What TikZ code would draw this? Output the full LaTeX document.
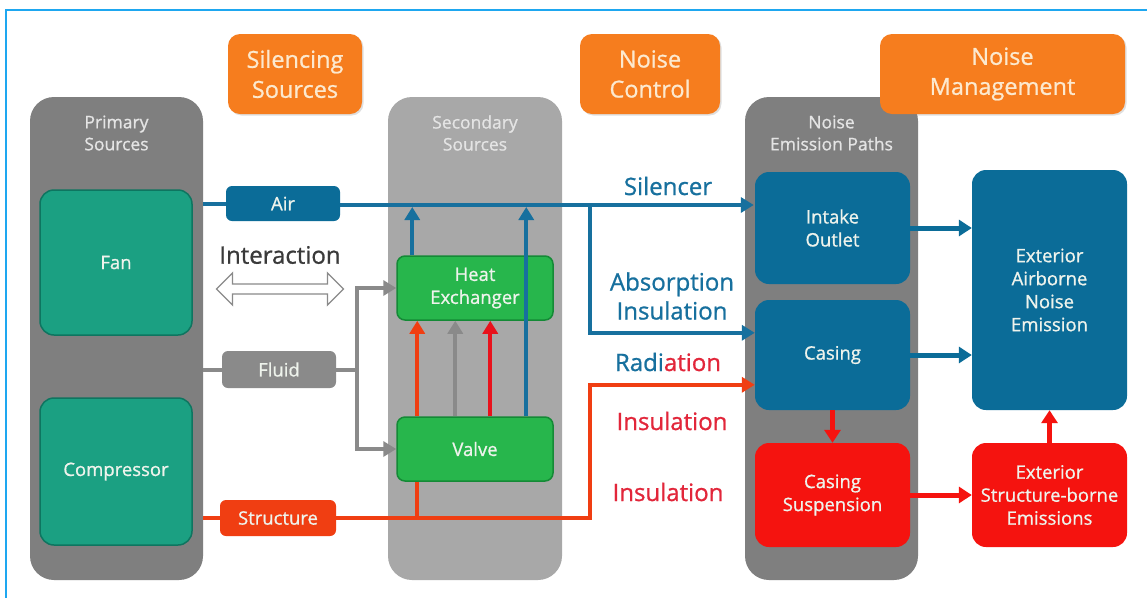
\documentclass[tikz,border=0pt]{standalone}
\usepackage{fontspec}
\setmainfont{Open Sans}[FakeBold=0.9]
\usetikzlibrary{arrows.meta,shapes.arrows,shadows,calc}

\definecolor{frameblue}{HTML}{1EA7F0}
\definecolor{colgray}{HTML}{7F7F7F}
\definecolor{colgraylt}{HTML}{A8A8A8}
\definecolor{teal}{HTML}{1BA082}
\definecolor{tealdk}{HTML}{0E7560}
\definecolor{green}{HTML}{27B64C}
\definecolor{greendk}{HTML}{148A36}
\definecolor{boxblue}{HTML}{0B6C98}
\definecolor{lineblue}{HTML}{17709E}
\definecolor{boxred}{HTML}{F5130F}
\definecolor{linered}{HTML}{F03E12}
\definecolor{textred}{HTML}{E2263A}
\definecolor{brightred}{HTML}{E8121C}
\definecolor{orange}{HTML}{F67D1E}
\definecolor{linegray}{HTML}{8A8A8A}
\definecolor{textlt}{HTML}{EEF3EC}
\definecolor{titlegray}{HTML}{E4E4E4}
\definecolor{darktext}{HTML}{3A3A3A}
\definecolor{cream}{HTML}{FCE9CF}

\newcommand{\fs}[2]{\fontsize{#1}{#2}\selectfont}

\tikzset{
  column/.style={rounded corners=24pt, inner sep=0pt},
  box/.style={rounded corners=14pt, inner sep=0pt, align=center, text=textlt,
              font=\fs{18.5}{23}},
  headbox/.style={rounded corners=12pt, fill=orange, inner sep=0pt, align=center,
              text=cream, font=\fs{23.5}{30},
              drop shadow={opacity=0.25, shadow xshift=1.5pt, shadow yshift=-1.5pt}},
  tagbox/.style={rounded corners=6pt, inner sep=0pt, text=textlt, font=\fs{18.5}{20}},
  coltitle/.style={align=center, text=titlegray, font=\fs{17.5}{22}},
  pathlabel/.style={align=center, font=\fs{24}{29}},
  bluearrow/.style={draw=lineblue, line width=4pt, -{Triangle[length=13pt,width=15pt]}},
  redarrow/.style={draw=linered, line width=4pt, -{Triangle[length=13pt,width=15pt]}},
  grayarrow/.style={draw=linegray, line width=4pt, -{Triangle[length=13pt,width=15pt]}},
  blueline/.style={draw=lineblue, line width=4pt},
  redline/.style={draw=linered, line width=4pt},
  grayline/.style={draw=linegray, line width=4pt},
}

\begin{document}
\begin{tikzpicture}[x=1pt, y=-1pt]
\useasboundingbox (0,0) rectangle (1147,598);
\fill[white] (0,0) rectangle (1147,598);

% outer frame (top and left edges)
\draw[frameblue, line width=2pt] (1147,10) -- (6,10) -- (6,598);

% columns
\node[column, fill=colgray, minimum width=173pt, minimum height=483pt] (prim) at (116.5,338.5) {};
\node[column, fill=colgraylt, minimum width=174pt, minimum height=483pt] (sec) at (475,338.5) {};
\node[column, fill=colgray, minimum width=173pt, minimum height=483pt] (nep) at (831.5,338.5) {};

\node[coltitle] (primt) at (116.5,133) {Primary\\Sources};
\node[coltitle] (sect) at (475,133) {Secondary\\Sources};
\node[coltitle] (nept) at (831.5,133) {Noise\\Emission Paths};

% heading boxes
\node[headbox, minimum width=134pt, minimum height=80pt] (hsil) at (295,74) {Silencing\\Sources};
\node[headbox, minimum width=140pt, minimum height=80pt] (hctl) at (650,74) {Noise\\Control};
\node[headbox, minimum width=245pt, minimum height=80pt] (hman) at (1002.5,74) {Noise\\Management};

% primary sources
\node[box, fill=teal, draw=tealdk, line width=1.5pt, minimum width=152pt, minimum height=145pt] (fan) at (116,262.5) {Fan};
\node[box, fill=teal, draw=tealdk, line width=1.5pt, minimum width=152pt, minimum height=147pt] (comp) at (116,471.5) {Compressor};

% secondary sources
\node[box, fill=green, draw=greendk, line width=1.5pt, rounded corners=8pt, minimum width=156pt, minimum height=64pt] (hx) at (475,288) {Heat\\Exchanger};
\node[box, fill=green, draw=greendk, line width=1.5pt, rounded corners=8pt, minimum width=156pt, minimum height=64pt] (valve) at (475,449) {Valve};

% emission paths
\node[box, fill=boxblue, minimum width=155pt, minimum height=112pt] (intake) at (832.5,228) {Intake\\Outlet};
\node[box, fill=boxblue, minimum width=155pt, minimum height=110pt] (casing) at (832.5,355) {Casing};
\node[box, fill=boxred, minimum width=155pt, minimum height=104pt] (casusp) at (832.5,495) {Casing\\Suspension};

% exterior emissions
\node[box, fill=boxblue, minimum width=155pt, minimum height=240pt] (extair) at (1049.5,290) {Exterior\\Airborne\\Noise\\Emission};
\node[box, fill=boxred, minimum width=155pt, minimum height=104pt] (extstr) at (1049.5,495) {Exterior\\Structure-borne\\Emissions};

% transmission tags
\node[tagbox, fill=boxblue, minimum width=114pt, minimum height=35pt] (air) at (283,203.5) {Air};
\node[tagbox, fill=linegray, minimum width=114pt, minimum height=37pt] (fluid) at (279,369.5) {Fluid};
\node[tagbox, fill=linered, minimum width=116pt, minimum height=36pt] (struct) at (278,518) {Structure};

% interaction
\node[text=darktext, font=\fs{24}{28}] (inter) at (280,255) {Interaction};
\node[double arrow, draw=linegray, fill=white, line width=1.3pt, minimum height=127pt,
      minimum width=32pt, double arrow head extend=8pt, inner sep=3pt] (interarr) at (280,289) {};

% path labels
\node[pathlabel, text=lineblue] (lsil) at (668,186) {Silencer};
\node[pathlabel, text=lineblue] (labs) at (672,296) {Absorption\\Insulation};
\node[pathlabel] (lrad) at (668,362) {\textcolor{lineblue}{Radi}\textcolor{textred}{ation}};
\node[pathlabel, text=textred] (lins1) at (672,421) {Insulation};
\node[pathlabel, text=textred] (lins2) at (668,492) {Insulation};

% helper coordinates
\coordinate (brA) at (590,205);
\coordinate (brS) at (590,518);
\coordinate (fl) at (357,369.5);

% air path
\draw[blueline] (prim.east |- air.east) -- (air.west);
\draw[bluearrow, shorten >=1pt] (air.east |- brA) -- (intake.west |- brA);
\draw[bluearrow] (brA) |- ($(casing.north west)+(0,33)$);

% fluid path
\draw[grayline] (prim.east |- fluid.west) -- (fluid.west);
\draw[grayline] (fluid.east) -- (fl);
\draw[grayarrow] (fl) |- (hx.west);
\draw[grayarrow] (fl) |- (valve.west);

% structure path
\draw[redline] (prim.east |- struct.west) -- (struct.west);
\draw[redarrow] (struct.east) -- (brS) |- ($(casing.north west)+(0,85)$);
\draw[redline] ([xshift=21pt]valve.south west) -- ([xshift=21pt]valve.south west |- struct.east);

% valve to heat exchanger
\draw[redarrow] ([xshift=21pt]valve.north west) -- ([xshift=21pt]hx.south west);
\draw[grayarrow] ([xshift=59pt]valve.north west) -- ([xshift=59pt]hx.south west);
\draw[draw=brightred, line width=4pt, -{Triangle[length=13pt,width=15pt]}]
  ([xshift=94pt]valve.north west) -- ([xshift=94pt]hx.south west);

% secondary sources into the air path
\draw[bluearrow, shorten >=2pt] ([xshift=16pt]hx.north west) -- ([xshift=16pt]hx.north west |- brA);
\draw[bluearrow, shorten >=2pt] ([xshift=130pt]valve.north west) -- ([xshift=130pt]valve.north west |- brA);

% emission paths to exterior
\draw[draw=boxblue, line width=5pt, -{Triangle[length=13pt,width=16pt]}] (intake.east) -- (intake.east -| extair.west);
\draw[draw=boxblue, line width=5pt, -{Triangle[length=13pt,width=16pt]}] (casing.east) -- (casing.east -| extair.west);
\draw[draw=boxred, line width=5pt, -{Triangle[length=13pt,width=16pt]}] (casing.south) -- (casusp.north);
\draw[draw=boxred, line width=5pt, -{Triangle[length=13pt,width=16pt]}] (casusp.east) -- (extstr.west);
\draw[draw=boxred, line width=5pt, -{Triangle[length=13pt,width=16pt]}] (extstr.north) -- (extair.south);
\end{tikzpicture}
\end{document}
